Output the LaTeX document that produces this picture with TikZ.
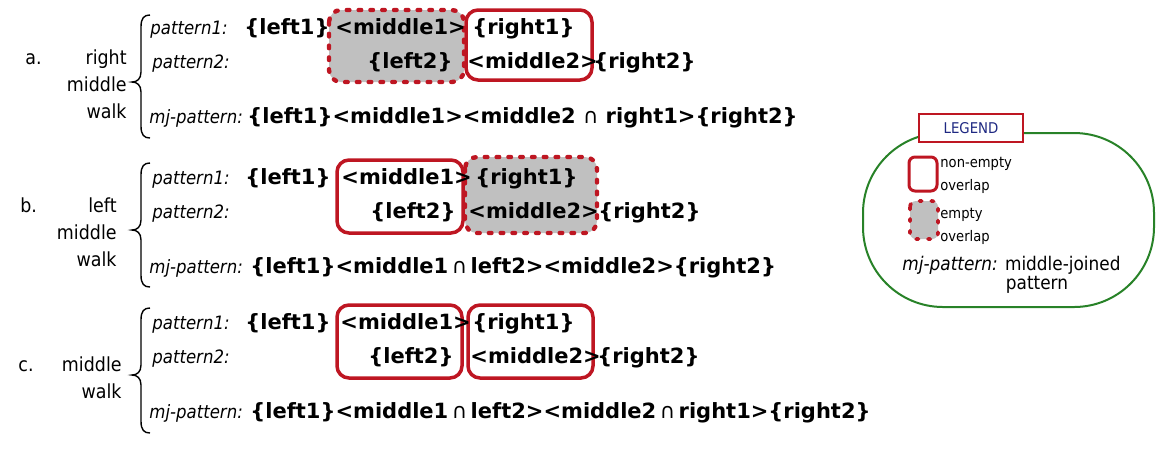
\documentclass[tikz,border=0pt]{standalone}
\usepackage{fontspec}
\setmainfont{DejaVu Sans}
\newfontfamily\narrowfam{DejaVu Sans}[FakeStretch=0.9]
\definecolor{boxred}{RGB}{190,22,34}
\definecolor{legblue}{RGB}{30,40,130}
\definecolor{leggreen}{RGB}{40,130,40}
\definecolor{boxgray}{RGB}{192,192,192}
\newcommand{\mjcap}{{\mdseries ∩}}
\newcommand{\drawbrace}[3]{%
  \draw[bracestyle] (150,#1) .. controls (144,#1) and (141,{#1+3}) .. (141,{#1+12})
    -- (141,{#2-10}) .. controls (141,{#2-3}) and (137,#2) .. (132,#2)
    .. controls (137,#2) and (141,{#2+3}) .. (141,{#2+10})
    -- (141,{#3-12}) .. controls (141,{#3-3}) and (144,#3) .. (150,#3);}
\tikzset{
  tok/.style={anchor=base west, inner sep=0pt, font=\fontsize{10.5}{12}\selectfont\bfseries},
  lab/.style={anchor=base west, inner sep=0pt, font=\narrowfam\fontsize{9.2}{11}\selectfont\itshape},
  side/.style={anchor=base east, inner sep=0pt, font=\narrowfam\fontsize{9.7}{12}\selectfont},
  letter/.style={anchor=base west, inner sep=0pt, font=\narrowfam\fontsize{9.7}{12}\selectfont},
  legtext/.style={anchor=base west, inner sep=0pt, font=\narrowfam\fontsize{7.3}{9}\selectfont},
  solidbox/.style={draw=boxred, line width=1.75pt, rounded corners=6pt},
  dotbox/.style={draw=boxred, fill=boxgray, line width=2.2pt, dash pattern=on 1.3pt off 4.6pt, line cap=round, rounded corners=6pt},
  bracestyle/.style={line width=0.7pt},
}
\begin{document}
\begin{tikzpicture}[x=0.5pt,y=-0.5pt]
\useasboundingbox (0,0) rectangle (1160,452);
% ---------- a ----------
\draw[dotbox] (329,10) rectangle (464,82);
\draw[solidbox] (466,10) rectangle (592,80);
\node[letter] (a-let) at (25,64) {a.};
\node[side] (a-s1) at (127,64) {right};
\node[side] (a-s2) at (127,91) {middle};
\node[side] (a-s3) at (127,118) {walk};
\drawbrace{15}{82}{138}
\node[lab] (a-p1) at (150,34) {pattern1:};
\node[lab] (a-p2) at (152,68) {pattern2:};
\node[lab] (a-mj) at (149,123) {mj-pattern:};
\node[tok] (a-l1) at (244,34) {\{left1\}};
\node[tok] (a-m1) at (335,34) {<middle1>};
\node[tok] (a-r1) at (472,34) {\{right1\}};
\node[tok] (a-l2) at (367,68) {\{left2\}};
\node[tok] (a-m2) at (467,68) {<middle2>};
\node[tok] (a-r2) at (593,68) {\{right2\}};
\node[tok] (a-j) at (247,123) {\{left1\}<middle1><middle2 \mjcap{} right1>\{right2\}};
% ---------- b ----------
\draw[solidbox] (337,160) rectangle (463,233);
\draw[dotbox] (465,157) rectangle (597,233);
\node[letter] (b-let) at (20,212) {b.};
\node[side] (b-s1) at (117,212) {left};
\node[side] (b-s2) at (117,239) {middle};
\node[side] (b-s3) at (117,266) {walk};
\drawbrace{163}{230}{287}
\node[lab] (b-p1) at (152,184) {pattern1:};
\node[lab] (b-p2) at (152,218) {pattern2:};
\node[lab] (b-mj) at (149,273) {mj-pattern:};
\node[tok] (b-l1) at (245,184) {\{left1\}};
\node[tok] (b-m1) at (341,184) {<middle1>};
\node[tok] (b-r1) at (475,184) {\{right1\}};
\node[tok] (b-l2) at (370,218) {\{left2\}};
\node[tok] (b-m2) at (468,218) {<middle2>};
\node[tok] (b-r2) at (598,218) {\{right2\}};
\node[tok] (b-j) at (250,273) {\{left1\}<middle1\,\mjcap\,left2><middle2>\{right2\}};
% ---------- c ----------
\draw[solidbox] (337,305) rectangle (462,378);
\draw[solidbox] (468,305) rectangle (593,378);
\node[letter] (c-let) at (18,371) {c.};
\node[side] (c-s1) at (122,371) {middle};
\node[side] (c-s2) at (122,398) {walk};
\drawbrace{308}{375}{433}
\node[lab] (c-p1) at (152,329) {pattern1:};
\node[lab] (c-p2) at (152,363) {pattern2:};
\node[lab] (c-mj) at (149,418) {mj-pattern:};
\node[tok] (c-l1) at (245,329) {\{left1\}};
\node[tok] (c-m1) at (340,329) {<middle1>};
\node[tok] (c-r1) at (472,329) {\{right1\}};
\node[tok] (c-l2) at (368,363) {\{left2\}};
\node[tok] (c-m2) at (470,363) {<middle2>};
\node[tok] (c-r2) at (597,363) {\{right2\}};
\node[tok] (c-j) at (250,418) {\{left1\}<middle1\,\mjcap\,left2><middle2\,\mjcap\,right1>\{right2\}};
% ---------- legend ----------
\draw[leggreen, line width=1pt, rounded corners=40pt] (863,133) rectangle (1154,307);
\node[draw=boxred, line width=1pt, fill=white, minimum width=52pt, minimum height=14pt, inner sep=0pt,
      text=legblue, font=\narrowfam\fontsize{7.4}{9}\selectfont] (legend) at (971,128) {LEGEND};
\draw[solidbox, line width=1.5pt, rounded corners=3pt] (909,157) rectangle (937,191);
\draw[dotbox, line width=1.8pt, rounded corners=3pt] (910,201) rectangle (938,239);
\node[legtext] (l-ne1) at (940,167) {non-empty};
\node[legtext] (l-ne2) at (940,190) {overlap};
\node[legtext] (l-e1) at (940,218) {empty};
\node[legtext] (l-e2) at (940,241) {overlap};
\node[anchor=base west, inner sep=0pt, font=\narrowfam\fontsize{9.4}{11}\selectfont] (l-mj) at (902,270)
  {\textit{mj-pattern:} middle-joined};
\node[anchor=base, inner sep=0pt, font=\narrowfam\fontsize{9.4}{11}\selectfont] (l-pat) at (1037,289) {pattern};
\end{tikzpicture}
\end{document}
